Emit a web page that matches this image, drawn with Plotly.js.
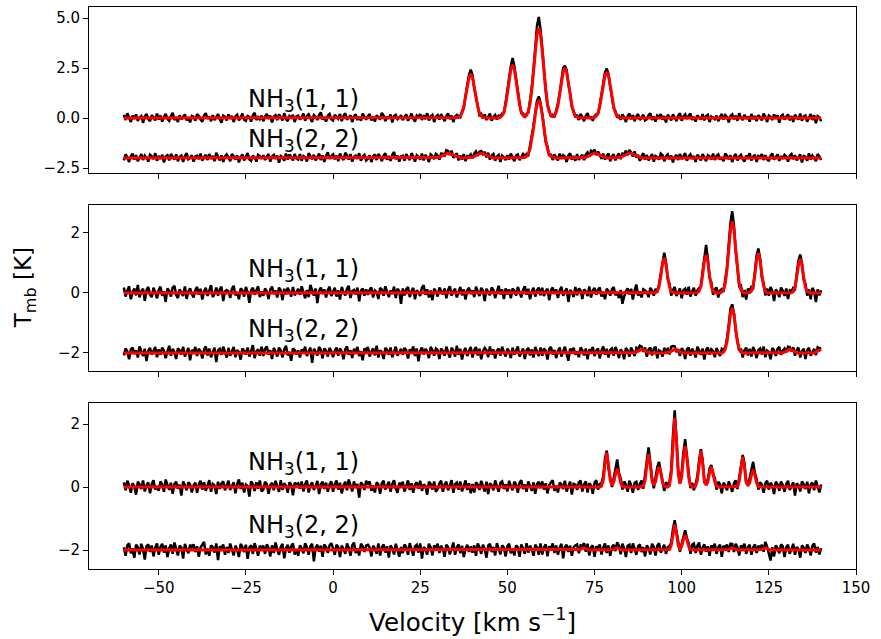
<!DOCTYPE html>
<html>
<head>
<meta charset="utf-8">
<script src="https://cdn.plot.ly/plotly-3.0.1.min.js"></script>
<style>html,body{margin:0;padding:0;background:#fff}</style>
</head>
<body>
<div id="chart" style="width:881px;height:639px"></div>
<script>
// Channel grid of all spectra (km/s)
const channelStart = -60;
const channelWidth = 0.5;
// Vertical offset applied to the NH3(2,2) spectra when drawing
const offset22 = -2;
const labels = ["NH<sub>3</sub>(1, 1)", "NH<sub>3</sub>(2, 2)"];

// ---------- Panel 1 (top) ----------
const top11Data = [
.16,-.1,.24,.06,-.2,.12,-.04,.18,-.14,.02,.1,-.24,.08,.2,-.06,-.16,.14,.04,-.12,.22,
-.08,.12,-.18,.06,.2,-.04,-.14,.1,.26,-.1,.04,-.2,.14,-.06,.08,.18,-.12,.02,-.22,.1,
.06,-.14,.2,.1,-.08,-.18,.12,.24,-.04,.08,-.16,.14,-.1,.04,.2,-.06,-.24,.12,.06,-.12,
.18,-.04,.1,-.2,.08,.16,-.12,.02,.22,-.08,-.14,.1,.06,-.18,.14,.26,-.1,.04,-.06,.12,
-.16,.08,.2,-.04,.12,-.22,.06,.14,-.1,.18,.04,-.12,.24,-.06,-.16,.1,.02,.16,-.2,.08,
.12,-.08,.04,.22,-.14,.1,.18,-.04,-.2,.14,.06,-.1,.16,.28,-.08,.04,-.18,.12,.2,-.06,
-.12,.16,.06,-.04,.2,-.16,.1,.24,-.08,.02,.14,-.2,.08,.18,-.1,.06,-.14,.22,.04,-.08,
.1,.2,-.12,.06,-.18,.14,.04,-.08,.26,.12,-.16,.08,-.04,.18,-.22,.1,.16,-.06,.02,.14,
-.1,.06,.18,-.14,.08,.22,-.04,-.18,.12,.04,.2,-.1,.14,-.06,.24,-.12,.08,.16,-.2,.06,
.14,-.08,.2,.04,-.16,.1,.22,-.06,.12,-.2,.08,.16,.1,.04,.35,.5,1.13,1.66,2.16,2.42,
2.15,1.48,1.12,.62,.14,.2,-.03,.18,-.1,.08,.22,-.14,.06,.16,-.08,.12,.09,.22,.24,.76,
1.29,2.0,2.6,3.0,2.6,1.95,1.14,.74,.24,.23,.02,.2,.27,.84,1.5,2.45,3.55,4.6,5.05,4.45,
3.5,2.25,1.46,.62,.4,.06,.15,.04,.37,.72,1.25,1.9,2.5,2.62,2.4,1.68,1.24,.55,.37,.03,
.16,-.1,.2,.06,-.16,.12,.24,-.04,.08,-.14,.09,.18,.2,.64,1.12,1.72,2.28,2.47,2.2,1.58,
1.12,.48,.34,.02,.11,-.08,.18,.04,-.2,.1,.22,-.06,.14,-.16,.08,.2,-.1,.04,.16,-.12,
-.06,.14,.24,-.1,.08,-.18,.12,.04,.2,-.08,.1,-.22,.16,.06,-.12,.18,.02,-.16,.12,.24,
-.14,.08,.18,-.04,.12,.22,-.1,.06,-.18,.14,.04,-.08,.2,-.12,.1,.16,-.2,.08,.02,-.06,
.12,-.16,.06,.2,-.08,.14,.04,-.22,.1,.18,-.06,.12,-.14,.24,.02,-.1,.16,-.04,.08,-.18,
.2,-.06,.1,-.16,.14,.04,-.12,.22,.08,-.2,.12,.06,-.1,.18,-.04,.14,-.24,.1,.16,-.08,
.06,.18,-.12,.1,-.2,.16,.04,-.08,.22,-.14,.08,.12,-.18,.06,.2,-.1,.14,-.26,.1,.04,
-.16];
const top11Fit = [
0,0,0,0,0,0,0,0,0,0,0,0,0,0,0,0,0,0,0,0,
0,0,0,0,0,0,0,0,0,0,0,0,0,0,0,0,0,0,0,0,
0,0,0,0,0,0,0,0,0,0,0,0,0,0,0,0,0,0,0,0,
0,0,0,0,0,0,0,0,0,0,0,0,0,0,0,0,0,0,0,0,
0,0,0,0,0,0,0,0,0,0,0,0,0,0,0,0,0,0,0,0,
0,0,0,0,0,0,0,0,0,0,0,0,0,0,0,0,0,0,0,0,
0,0,0,0,0,0,0,0,0,0,0,0,0,0,0,0,0,0,0,0,
0,0,0,0,0,0,0,0,0,0,0,0,0,0,0,0,0,0,0,0,
0,0,0,0,0,0,0,0,0,0,0,0,0,0,0,0,0,0,0,0,
0,0,0,0,0,0,0,0,0,0,0,0,.03,.1,.25,.55,1.01,1.56,2.02,2.2,
2.02,1.56,1.01,.55,.25,.1,.03,0,0,0,0,0,0,0,0,0,.04,.12,.3,.66,
1.21,1.87,2.43,2.65,2.43,1.87,1.21,.66,.3,.13,.08,.13,.32,.71,1.38,2.31,3.35,4.18,4.5,4.18,
3.35,2.31,1.38,.71,.32,.12,.08,.12,.29,.62,1.15,1.77,2.29,2.5,2.29,1.77,1.15,.62,.29,.11,
.04,0,0,0,0,0,0,0,0,0,.03,.1,.26,.57,1.05,1.63,2.11,2.3,2.11,1.63,
1.05,.57,.26,.1,.03,0,0,0,0,0,0,0,0,0,0,0,0,0,0,0,
0,0,0,0,0,0,0,0,0,0,0,0,0,0,0,0,0,0,0,0,
0,0,0,0,0,0,0,0,0,0,0,0,0,0,0,0,0,0,0,0,
0,0,0,0,0,0,0,0,0,0,0,0,0,0,0,0,0,0,0,0,
0,0,0,0,0,0,0,0,0,0,0,0,0,0,0,0,0,0,0,0,
0,0,0,0,0,0,0,0,0,0,0,0,0,0,0,0,0,0,0,0,
0];
const top22Data = [
-.12,.18,.04,-.2,.1,.22,-.08,.14,-.16,.06,.2,-.1,.12,.02,-.18,.16,.08,-.06,.24,-.14,
.1,-.04,.16,-.22,.08,.14,-.12,.2,.04,-.08,.18,-.16,.06,.12,-.2,.1,.24,-.06,.02,.14,
-.18,.08,.12,-.06,.22,-.14,.04,.16,-.1,.2,-.04,.1,-.16,.26,.06,-.12,.14,-.2,.08,.18,
.04,-.16,.2,.1,-.08,.14,-.22,.06,.18,-.12,.08,.24,-.06,-.14,.12,.02,-.18,.16,.1,-.04,
.14,-.1,.06,.2,-.18,.08,.16,-.04,.12,-.24,.1,.04,-.14,.22,-.08,.18,.06,-.12,.2,-.02,
-.08,.2,-.14,.1,.04,-.18,.24,.08,-.06,.16,-.12,.06,.22,-.1,.14,-.2,.12,.28,-.04,.1,
.18,-.06,.12,-.16,.22,.04,-.1,.26,.14,-.08,.2,-.18,.06,.12,-.04,.24,-.14,.08,.16,-.12,
-.04,.14,-.2,.08,.18,-.1,.2,.06,-.16,.12,.24,-.08,.1,-.14,.16,.3,-.06,.12,-.18,.08,
.12,-.14,.2,.04,-.1,.24,.08,-.18,.14,.06,-.08,.22,-.12,.16,.02,-.2,.18,.1,-.06,.2,
.12,-.08,.22,.21,.13,.39,.35,.15,.37,.01,.16,.24,-.12,.12,-.08,.2,-.16,.1,.08,.18,
-.02,.22,.33,.11,.31,.35,.19,.31,.03,.26,-.08,.12,.2,-.14,.08,.16,-.2,.12,.04,-.1,
.14,-.08,.22,.06,-.16,.12,.18,-.1,.08,.2,.08,.2,.14,.6,1.0,1.62,2.26,2.86,3.08,2.76,
2.22,1.6,.82,.58,.1,.2,-.1,.18,.06,-.12,.22,-.04,.14,.08,-.2,.12,.24,-.08,.1,-.14,
.2,-.1,.06,.16,-.1,.18,.28,.06,.36,.3,.42,.14,.32,.17,-.04,.22,-.08,.12,.22,-.16,
.08,.18,-.12,.1,.22,-.06,.22,.19,.37,.15,.4,.27,.07,.33,.02,.16,-.14,.1,.24,-.08,
.16,-.12,.06,.2,-.18,.1,.04,-.08,.22,.14,-.16,.08,.18,-.06,.12,-.22,.06,.16,-.1,.2,
-.06,.12,.24,-.14,.08,.18,-.04,.1,-.2,.16,.06,-.12,.2,.04,-.16,.14,.08,-.08,.22,-.1,
.1,.18,-.08,.04,-.16,.22,.12,-.06,.14,-.2,.08,.2,-.12,.06,.16,-.04,-.18,.12,.02,.24,
-.12,.06,.16,-.2,.1,.04,.2,-.1,.14,-.06,-.16,.12,.22,-.08,.06,.18,-.14,.1,-.04,.16,
.08,-.18,.12,.2,-.06,.14,-.12,.04,.18,-.22,.1,.06,-.14,.24,-.08,.12,.02,-.16,.2,.08,
-.1];
const top22Fit = [
0,0,0,0,0,0,0,0,0,0,0,0,0,0,0,0,0,0,0,0,
0,0,0,0,0,0,0,0,0,0,0,0,0,0,0,0,0,0,0,0,
0,0,0,0,0,0,0,0,0,0,0,0,0,0,0,0,0,0,0,0,
0,0,0,0,0,0,0,0,0,0,0,0,0,0,0,0,0,0,0,0,
0,0,0,0,0,0,0,0,0,0,0,0,0,0,0,0,0,0,0,0,
0,0,0,0,0,0,0,0,0,0,0,0,0,0,0,0,0,0,0,0,
0,0,0,0,0,0,0,0,0,0,0,0,0,0,0,0,0,0,0,0,
0,0,0,0,0,0,0,0,0,0,0,0,0,0,0,0,0,0,0,0,
0,0,0,0,0,0,0,0,0,0,0,0,0,0,0,0,0,0,0,0,
.02,.04,.08,.13,.19,.23,.25,.23,.19,.13,.08,.04,.02,0,0,0,0,0,.01,.02,
.04,.08,.13,.19,.23,.25,.23,.19,.13,.08,.04,.02,0,0,0,0,0,0,0,0,
0,0,0,0,0,0,0,0,0,0,.03,.08,.2,.46,.89,1.49,2.16,2.69,2.9,2.69,
2.16,1.49,.89,.46,.2,.08,.03,0,0,0,0,0,0,0,0,0,0,0,0,0,
0,0,0,0,.02,.04,.08,.13,.19,.23,.25,.23,.19,.13,.08,.04,.02,0,0,0,
0,0,0,0,.02,.04,.08,.13,.19,.23,.25,.23,.19,.13,.08,.04,.02,0,0,0,
0,0,0,0,0,0,0,0,0,0,0,0,0,0,0,0,0,0,0,0,
0,0,0,0,0,0,0,0,0,0,0,0,0,0,0,0,0,0,0,0,
0,0,0,0,0,0,0,0,0,0,0,0,0,0,0,0,0,0,0,0,
0,0,0,0,0,0,0,0,0,0,0,0,0,0,0,0,0,0,0,0,
0,0,0,0,0,0,0,0,0,0,0,0,0,0,0,0,0,0,0,0,
0];

// ---------- Panel 2 (middle) ----------
const mid11Data = [
.18,-.12,.08,.22,-.21,.03,.15,-.08,.27,-.15,.06,.14,-.26,.09,.2,-.05,-.14,.17,.03,-.18,
.1,.21,-.09,.05,-.3,.15,.08,-.12,.18,.24,-.06,-.17,.12,.03,-.1,.22,-.2,.06,.15,-.03,
-.15,.09,.2,-.06,.14,-.22,.05,.17,-.1,.08,.26,-.14,-.03,.18,-.09,.12,.21,-.27,.05,.1,
.06,-.17,.14,.24,-.08,.03,-.21,.15,.09,-.12,.2,.02,-.33,.1,.17,-.06,.08,.22,-.14,.05,
-.09,.15,.05,-.2,.12,.21,-.03,.08,-.15,.18,.09,-.24,.14,-.05,.17,.06,-.12,.2,-.08,.03,
.14,-.06,.22,.03,-.18,.1,-.14,.27,.05,-.09,.15,-.34,.08,.18,-.03,.12,-.15,.09,.21,-.1,
.05,.17,-.12,.09,-.22,.2,.03,-.08,.14,.24,-.17,.06,.1,-.05,.18,-.28,.08,.15,-.09,.12,
-.06,.1,.18,-.15,.08,.03,-.2,.17,.12,-.09,.22,.05,-.14,.09,-.03,.21,-.17,.14,.06,-.36,
.15,-.08,.12,.2,-.14,.06,.17,-.21,.09,.03,-.1,.18,.26,-.06,.12,-.15,.08,-.24,.14,.05,
-.12,.18,.08,-.05,.15,-.18,.1,.22,-.09,.06,.14,-.15,.03,.2,-.08,.12,-.22,.09,.17,-.03,
.09,-.14,.21,.05,-.1,.17,.08,-.27,.14,.03,-.08,.18,.1,-.17,.06,.24,-.05,.12,-.2,.15,
-.05,.12,-.18,.15,.08,-.09,.2,.03,-.15,.1,.22,-.06,.14,-.21,.05,.17,-.12,.09,.18,-.08,
.17,-.1,.06,.14,-.24,.09,.18,-.03,.12,-.17,.08,.21,-.09,.05,.15,-.3,.1,.03,-.14,.2,
-.08,.15,.09,-.2,.12,.05,-.1,.22,-.15,.08,.17,-.06,.1,.18,-.12,.03,-.21,.14,.06,-.09,
.12,.2,-.08,.03,-.17,.1,-.36,-.12,.06,.15,-.05,.14,-.22,.09,.28,-.09,.05,-.15,.12,.08,
.03,-.14,.17,.08,-.09,.14,.02,.29,.66,1.1,1.34,1.02,.46,.31,-.09,.1,.2,-.1,.06,.15,
-.18,.09,.14,-.06,.21,-.12,.05,.17,-.09,.08,.17,.2,.72,1.26,1.6,1.15,.5,.35,-.06,.11,
.18,-.15,.08,.13,.04,.45,.86,1.62,2.34,2.72,2.24,1.39,.9,.23,.25,-.14,.1,-.22,.14,.07,
.2,.16,.72,1.26,1.48,1.14,.51,.32,-.08,.15,-.09,.2,.06,-.27,.12,.03,-.14,.18,.08,-.1,
.15,-.2,.09,.06,.17,.13,.64,1.08,1.28,1.0,.43,.3,-.09,.12,-.21,.17,.05,-.3,.12,-.08,
.09];
const mid11Fit = [
0,0,0,0,0,0,0,0,0,0,0,0,0,0,0,0,0,0,0,0,
0,0,0,0,0,0,0,0,0,0,0,0,0,0,0,0,0,0,0,0,
0,0,0,0,0,0,0,0,0,0,0,0,0,0,0,0,0,0,0,0,
0,0,0,0,0,0,0,0,0,0,0,0,0,0,0,0,0,0,0,0,
0,0,0,0,0,0,0,0,0,0,0,0,0,0,0,0,0,0,0,0,
0,0,0,0,0,0,0,0,0,0,0,0,0,0,0,0,0,0,0,0,
0,0,0,0,0,0,0,0,0,0,0,0,0,0,0,0,0,0,0,0,
0,0,0,0,0,0,0,0,0,0,0,0,0,0,0,0,0,0,0,0,
0,0,0,0,0,0,0,0,0,0,0,0,0,0,0,0,0,0,0,0,
0,0,0,0,0,0,0,0,0,0,0,0,0,0,0,0,0,0,0,0,
0,0,0,0,0,0,0,0,0,0,0,0,0,0,0,0,0,0,0,0,
0,0,0,0,0,0,0,0,0,0,0,0,0,0,0,0,0,0,0,0,
0,0,0,0,0,0,0,0,0,0,0,0,0,0,0,0,0,0,0,0,
0,0,0,0,0,0,0,0,0,0,0,0,0,0,0,0,0,0,0,0,
0,0,0,0,0,0,0,0,0,0,0,0,0,0,0,0,0,0,0,0,
0,0,0,0,0,.01,.05,.2,.54,.96,1.17,.96,.54,.2,.05,.01,0,0,0,0,
0,0,0,0,0,0,0,0,0,.01,.06,.22,.58,1.05,1.27,1.05,.58,.22,.06,.01,
0,0,0,.03,.1,.32,.77,1.44,2.1,2.38,2.1,1.44,.77,.32,.1,.03,0,0,0,.01,
.06,.23,.61,1.09,1.33,1.09,.61,.23,.06,.01,0,0,0,0,0,0,0,0,0,0,
0,0,0,.01,.05,.19,.52,.93,1.13,.93,.52,.19,.05,.01,0,0,0,0,0,0,
0];
const mid22Data = [
-.08,.15,.05,-.21,.12,.18,-.03,.09,-.15,.22,.06,-.1,.14,-.27,.08,.17,-.05,.1,.2,-.14,
.12,-.06,.18,.08,-.17,.05,.24,-.09,.14,.03,-.2,.15,.09,-.05,.21,-.12,.06,.17,-.24,.1,
.03,.2,-.1,.14,.06,-.18,.12,.22,-.08,.15,-.14,.05,.18,-.3,.09,.14,-.06,.21,.02,-.15,
.17,-.09,.06,.2,-.14,.1,.03,-.22,.15,.08,-.05,.18,-.12,.09,.26,-.17,.05,.12,-.09,.21,
-.1,.14,.22,-.06,.09,-.2,.17,.05,-.12,.18,.08,-.15,.12,.24,-.08,.03,-.26,.15,.1,-.05,
.09,-.15,.12,.03,.21,-.1,.06,.18,-.33,.14,.05,-.08,.2,.1,-.18,.15,.08,-.12,.17,.06,
-.14,.08,.18,-.09,.15,.05,-.21,.12,.22,-.06,.09,-.17,.14,.03,.2,-.1,.06,-.24,.15,.09,
.2,-.12,.05,.15,-.08,.24,-.15,.09,.03,-.2,.17,.1,-.06,.18,-.14,.08,.21,-.09,.05,.14,
-.06,.17,.09,-.18,.12,.03,.22,-.1,.15,-.28,.08,.18,-.05,.14,.06,-.17,.2,.1,-.09,.15,
.1,-.2,.15,.06,-.09,.21,.03,-.15,.18,.09,-.12,.24,-.06,.14,-.22,.05,.17,-.1,.08,.2,
-.15,.09,.2,-.08,.14,-.21,.06,.17,.1,-.14,.22,-.05,.12,-.18,.08,.15,-.09,.21,.03,-.12,
.14,.05,-.17,.18,-.06,.1,.22,-.12,.03,.15,-.2,.09,.17,-.08,.12,-.15,.2,.06,-.1,.18,
-.09,.15,.08,-.22,.14,.2,-.05,.1,-.17,.06,.18,-.12,.09,.21,-.03,-.26,.14,.08,.17,-.06,
.06,-.14,.18,.1,-.08,.15,-.21,.12,.05,.2,-.1,.08,.15,-.18,.09,.22,-.06,.14,-.15,.1,
.15,-.09,.2,.06,-.17,.12,.03,-.21,.17,.09,-.12,.18,.05,-.1,.17,.13,.24,.21,.04,.18,
-.12,.12,.18,-.08,.14,.21,-.18,.09,.05,-.12,.17,.08,.14,-.05,.21,.23,.22,.03,.13,-.1,
.16,.08,-.2,.12,.18,-.09,.14,.05,-.15,.21,.09,-.06,.15,-.22,.1,.18,-.05,.12,.06,-.14,
.17,.03,-.1,.14,.1,.19,.48,.94,1.48,1.62,1.32,.74,.46,.07,.14,-.15,.09,.18,-.08,.14,
-.12,.2,.06,-.17,.1,.15,-.05,.22,-.14,.08,.03,-.21,.17,.09,-.1,.14,.2,-.06,.08,.15,
.02,.21,.2,.06,.19,-.09,.1,.18,-.15,.06,.14,-.2,.1,.17,-.09,.05,.14,-.07,.19,.15,
.18];
const mid22Fit = [
0,0,0,0,0,0,0,0,0,0,0,0,0,0,0,0,0,0,0,0,
0,0,0,0,0,0,0,0,0,0,0,0,0,0,0,0,0,0,0,0,
0,0,0,0,0,0,0,0,0,0,0,0,0,0,0,0,0,0,0,0,
0,0,0,0,0,0,0,0,0,0,0,0,0,0,0,0,0,0,0,0,
0,0,0,0,0,0,0,0,0,0,0,0,0,0,0,0,0,0,0,0,
0,0,0,0,0,0,0,0,0,0,0,0,0,0,0,0,0,0,0,0,
0,0,0,0,0,0,0,0,0,0,0,0,0,0,0,0,0,0,0,0,
0,0,0,0,0,0,0,0,0,0,0,0,0,0,0,0,0,0,0,0,
0,0,0,0,0,0,0,0,0,0,0,0,0,0,0,0,0,0,0,0,
0,0,0,0,0,0,0,0,0,0,0,0,0,0,0,0,0,0,0,0,
0,0,0,0,0,0,0,0,0,0,0,0,0,0,0,0,0,0,0,0,
0,0,0,0,0,0,0,0,0,0,0,0,0,0,0,0,0,0,0,0,
0,0,0,0,0,0,0,0,0,0,0,0,0,0,0,0,0,0,0,0,
0,0,0,0,0,0,0,0,0,0,0,0,0,0,0,0,0,0,0,0,
0,0,0,0,0,0,0,0,0,0,0,0,0,.01,.03,.06,.1,.12,.1,.06,
.03,.01,0,0,0,0,0,0,0,0,0,0,.01,.03,.06,.1,.12,.1,.06,.03,
.01,0,0,0,0,0,0,0,0,0,0,0,0,0,0,0,0,0,0,0,
0,0,0,0,.03,.13,.37,.81,1.29,1.5,1.29,.81,.37,.13,.03,0,0,0,0,0,
0,0,0,0,0,0,0,0,0,0,0,0,0,0,0,0,0,0,.01,.03,
.06,.1,.12,.1,.06,.03,.01,0,0,0,0,0,0,0,0,0,.01,.03,.06,.1,
.12];

// ---------- Panel 3 (bottom) ----------
const bot11Data = [
.15,-.1,.2,.06,-.18,.12,.03,-.24,.17,.09,-.06,.21,-.14,.05,.15,-.2,.1,.22,-.08,.03,
-.12,.18,.08,-.15,.24,.05,-.09,.14,-.21,.1,.17,-.05,.08,-.27,.18,.06,-.1,.15,.09,-.17,
.06,.14,-.18,.09,.2,-.08,.15,-.12,.03,.22,-.15,.1,.05,-.22,.17,-.06,.12,.18,-.1,.08,
.2,-.09,.05,.15,-.2,.1,.24,-.06,.14,-.17,.08,.03,-.3,.18,.09,-.12,.15,-.05,.21,-.14,
-.08,.17,.1,-.21,.06,.14,-.1,.2,.03,-.15,.22,-.09,.12,.05,-.18,.15,.08,-.26,.14,.09,
.12,-.05,.18,-.14,.09,.21,-.17,.06,.15,-.09,.03,.2,-.22,.1,.17,-.06,.14,-.15,.08,.18,
-.15,.09,.21,-.08,.14,-.2,.05,.17,-.1,.24,.06,-.14,.18,-.03,.1,-.33,.15,.08,-.09,.2,
.08,.18,-.12,.05,-.17,.15,.09,-.21,.12,.2,-.08,.03,.17,-.15,.1,.22,-.06,-.18,.14,.05,
.17,-.14,.06,.21,-.09,.12,-.18,.08,.15,-.05,.2,-.12,.09,.03,-.24,.17,.1,-.08,.18,-.15,
-.06,.12,.2,-.15,.08,.17,-.1,.03,.22,-.18,.09,.14,-.08,.18,-.14,.05,.21,-.09,.12,-.2,
.1,-.17,.15,.08,-.09,.2,.05,-.14,.17,-.22,.12,.06,-.1,.21,.03,-.15,.14,.18,-.06,.09,
-.14,.2,.03,-.1,.17,.09,-.18,.14,.22,-.06,.08,-.15,.18,.05,-.12,.15,-.21,.1,.17,-.03,
.18,-.08,.12,-.2,.06,.15,.22,-.12,.05,-.17,.14,.09,-.06,.2,-.14,.03,.17,-.24,.1,.08,
-.09,.15,.21,-.14,.08,.18,-.17,.12,.05,-.21,.14,.22,-.08,.1,.12,.35,.9,1.16,.6,.3,
0,.28,.63,.88,.45,.28,-.08,.18,.08,-.15,.2,.06,-.18,.14,.17,-.09,.1,.21,-.05,.33,
.84,1.26,.72,.31,-.04,.28,.64,.8,.5,.27,-.12,.15,.09,.15,.55,1.64,2.44,1.54,.57,.13,
.47,1.1,1.52,.99,.45,-.03,.14,-.1,.1,.35,.85,1.2,.88,.16,.17,.24,.59,.7,.37,.29,
-.08,.17,.09,-.2,.14,.06,-.1,.18,.03,-.15,.12,.21,-.06,.28,.73,1.02,.77,.12,.17,.27,
.56,.8,.45,.26,-.08,.15,.08,-.18,.12,.2,-.08,.14,.05,-.22,.17,.09,-.12,.18,.06,-.15,
.1,.2,-.09,.03,.15,-.27,.12,.06,-.14,.18,.09,-.06,.17,-.2,.08,.14,-.1,.21,.05,-.17,
.08];
const bot11Fit = [
0,0,0,0,0,0,0,0,0,0,0,0,0,0,0,0,0,0,0,0,
0,0,0,0,0,0,0,0,0,0,0,0,0,0,0,0,0,0,0,0,
0,0,0,0,0,0,0,0,0,0,0,0,0,0,0,0,0,0,0,0,
0,0,0,0,0,0,0,0,0,0,0,0,0,0,0,0,0,0,0,0,
0,0,0,0,0,0,0,0,0,0,0,0,0,0,0,0,0,0,0,0,
0,0,0,0,0,0,0,0,0,0,0,0,0,0,0,0,0,0,0,0,
0,0,0,0,0,0,0,0,0,0,0,0,0,0,0,0,0,0,0,0,
0,0,0,0,0,0,0,0,0,0,0,0,0,0,0,0,0,0,0,0,
0,0,0,0,0,0,0,0,0,0,0,0,0,0,0,0,0,0,0,0,
0,0,0,0,0,0,0,0,0,0,0,0,0,0,0,0,0,0,0,0,
0,0,0,0,0,0,0,0,0,0,0,0,0,0,0,0,0,0,0,0,
0,0,0,0,0,0,0,0,0,0,0,0,0,0,0,0,0,0,0,0,
0,0,0,0,0,0,0,0,0,0,0,0,0,0,0,0,0,0,0,0,
0,0,0,0,0,0,0,0,0,0,0,0,0,0,.03,.21,.72,1.09,.72,.21,
.06,.14,.4,.57,.4,.14,.03,0,0,0,0,0,0,0,0,0,0,0,.03,.2,
.69,1.04,.69,.2,.06,.16,.46,.65,.46,.16,.03,0,0,.05,.42,1.46,2.2,1.46,.43,.11,
.32,.92,1.3,.92,.32,.06,.01,0,.03,.22,.76,1.15,.76,.22,.06,.16,.46,.65,.46,.16,
.03,0,0,0,0,0,0,0,0,0,0,0,.02,.18,.64,.96,.64,.18,.04,.13,
.38,.54,.38,.13,.02,0,0,0,0,0,0,0,0,0,0,0,0,0,0,0,
0,0,0,0,0,0,0,0,0,0,0,0,0,0,0,0,0,0,0,0,
0];
const bot22Data = [
.09,-.18,.15,.22,-.1,.05,-.24,.17,.08,-.14,.2,.03,-.3,.12,.18,-.06,.15,-.2,.09,.21,
-.15,.1,.2,-.08,.15,-.22,.06,.18,-.12,.24,.05,-.17,.14,.08,-.27,.2,.03,-.1,.17,.09,
.18,-.06,.12,-.21,.08,.17,.26,-.14,.05,-.18,.15,.09,-.08,.21,-.32,.12,.06,.18,-.15,.1,
-.09,.21,.05,-.17,.14,.03,-.22,.2,.1,-.06,.17,-.28,.09,.15,-.12,.22,.05,-.18,.14,.06,
.14,-.12,.18,.08,-.2,.15,-.09,.24,.03,-.15,.1,.2,-.26,.06,.17,-.08,.12,.21,-.14,.03,
-.18,.15,.06,-.1,.22,.09,-.15,.12,.2,-.36,.08,.17,-.05,.14,-.21,.18,.1,-.09,.15,.22,
.06,-.15,.17,.1,-.22,.14,.03,-.12,.21,.08,-.18,.15,.24,-.09,.05,-.17,.2,.12,-.06,.15,
.17,.08,-.2,.14,.05,-.12,.21,-.17,.09,.18,-.08,.12,-.24,.15,.06,-.14,.2,.03,-.21,.1,
-.1,.18,.09,-.15,.22,.05,-.18,.12,.17,-.08,.21,-.27,.1,.03,-.14,.2,.09,-.17,.15,.06,
.2,-.09,.14,.03,-.21,.17,.1,-.14,.06,.24,-.15,.08,.18,-.1,.14,-.22,.05,.17,-.06,.12,
-.08,.15,-.18,.21,.09,-.12,.17,.05,-.24,.14,.2,-.06,.1,-.17,.22,.03,-.14,.15,.08,-.2,
.12,.2,-.1,.06,-.17,.15,.09,-.21,.18,.05,-.12,.22,-.08,.14,.03,-.18,.17,.09,-.15,.21,
-.14,.08,.18,-.2,.12,.03,.21,-.09,.15,-.15,.08,.2,-.26,.1,.17,-.06,.14,-.18,.09,.15,
.18,-.1,.15,.13,.22,-.05,.2,-.17,.09,.15,-.21,.12,.05,.18,-.14,.08,.21,-.09,.15,-.18,
.1,.17,-.03,.25,.14,-.13,.2,.06,-.22,.14,.17,-.09,.21,.05,-.15,.12,.18,-.06,.09,-.2,
.15,.06,-.14,.2,.1,-.17,.14,.22,-.08,.03,.17,-.12,.09,.13,.23,.67,.95,.6,.24,-.05,
.21,.46,.63,.38,.22,-.12,.17,.21,-.09,.14,.24,-.15,.08,.18,-.05,.12,-.18,.15,.06,.2,
-.12,.09,.17,-.21,.14,.05,.18,-.06,.2,.19,-.06,.2,.09,-.17,.15,.06,.2,-.12,.1,.17,
-.15,.08,.18,-.09,.14,.05,.17,-.05,.26,.11,-.12,-.33,.09,-.2,.15,.06,-.1,.18,.12,-.22,
.09,.17,-.12,.05,.2,-.15,.1,.03,-.24,.15,.08,-.09,.18,.06,-.17,.14,.21,-.08,.1,-.14,
.06];
const bot22Fit = [
0,0,0,0,0,0,0,0,0,0,0,0,0,0,0,0,0,0,0,0,
0,0,0,0,0,0,0,0,0,0,0,0,0,0,0,0,0,0,0,0,
0,0,0,0,0,0,0,0,0,0,0,0,0,0,0,0,0,0,0,0,
0,0,0,0,0,0,0,0,0,0,0,0,0,0,0,0,0,0,0,0,
0,0,0,0,0,0,0,0,0,0,0,0,0,0,0,0,0,0,0,0,
0,0,0,0,0,0,0,0,0,0,0,0,0,0,0,0,0,0,0,0,
0,0,0,0,0,0,0,0,0,0,0,0,0,0,0,0,0,0,0,0,
0,0,0,0,0,0,0,0,0,0,0,0,0,0,0,0,0,0,0,0,
0,0,0,0,0,0,0,0,0,0,0,0,0,0,0,0,0,0,0,0,
0,0,0,0,0,0,0,0,0,0,0,0,0,0,0,0,0,0,0,0,
0,0,0,0,0,0,0,0,0,0,0,0,0,0,0,0,0,0,0,0,
0,0,0,0,0,0,0,0,0,0,0,0,0,0,0,0,0,0,0,0,
0,0,0,0,0,0,0,0,0,0,0,0,0,0,0,0,0,0,0,0,
0,0,.02,.05,.07,.05,.02,0,0,0,0,0,0,0,0,0,0,0,0,0,
0,.02,.05,.07,.05,.02,0,0,0,0,0,0,0,0,0,0,0,0,0,0,
0,0,0,0,0,0,0,0,0,0,0,0,0,.02,.15,.54,.81,.54,.15,.04,
.12,.33,.47,.33,.12,.02,0,0,0,0,0,0,0,0,0,0,0,0,0,0,
0,0,0,0,0,0,0,.02,.05,.07,.05,.02,0,0,0,0,0,0,0,0,
0,0,0,0,0,0,.02,.05,.07,.05,.02,0,0,0,0,0,0,0,0,0,
0,0,0,0,0,0,0,0,0,0,0,0,0,0,0,0,0,0,0,0,
0];

// ---------- drawing ----------
function velocities(arr) { return arr.map((_, i) => channelStart + i * channelWidth); }
function shifted(arr, off) { return arr.map(v => v + off); }

const panels = [
  {xa: 'x3', ya: 'y3', d11: top11Data, f11: top11Fit, d22: top22Data, f22: top22Fit},
  {xa: 'x2', ya: 'y2', d11: mid11Data, f11: mid11Fit, d22: mid22Data, f22: mid22Fit},
  {xa: 'x',  ya: 'y',  d11: bot11Data, f11: bot11Fit, d22: bot22Data, f22: bot22Fit}
];

const traces = [];
const annotations = [];
const FONT = 'DejaVu Sans, sans-serif';
panels.forEach(p => {
  const black = {color: '#000000', width: 2.5};
  const red = {color: '#ff0000', width: 3};
  traces.push({x: velocities(p.d11), y: p.d11, xaxis: p.xa, yaxis: p.ya, type: 'scatter', mode: 'lines', line: black, hoverinfo: 'skip'});
  traces.push({x: velocities(p.d22), y: shifted(p.d22, offset22), xaxis: p.xa, yaxis: p.ya, type: 'scatter', mode: 'lines', line: black, hoverinfo: 'skip'});
  traces.push({x: velocities(p.f11), y: p.f11, xaxis: p.xa, yaxis: p.ya, type: 'scatter', mode: 'lines', line: red, hoverinfo: 'skip'});
  traces.push({x: velocities(p.f22), y: shifted(p.f22, offset22), xaxis: p.xa, yaxis: p.ya, type: 'scatter', mode: 'lines', line: red, hoverinfo: 'skip'});
  annotations.push({x: -25, y: 0.5, xref: p.xa, yref: p.ya, text: labels[0], showarrow: false, xanchor: 'left', yanchor: 'bottom', yshift: -10, font: {family: FONT, size: 24, color: '#000'}});
  annotations.push({x: -25, y: 0.5 + offset22, xref: p.xa, yref: p.ya, text: labels[1], showarrow: false, xanchor: 'left', yanchor: 'bottom', yshift: -10, font: {family: FONT, size: 24, color: '#000'}});
});

annotations.push({xref: 'paper', yref: 'paper', x: -0.083, y: 0.5, text: 'T<sub>mb</sub> [K]', textangle: -90, showarrow: false, xanchor: 'center', yanchor: 'middle', font: {family: FONT, size: 23, color: '#000'}});

const xBase = {range: [-70, 150], tick0: 0, dtick: 25, ticks: 'outside', ticklen: 5, tickwidth: 1, tickcolor: '#000',
  showline: true, linecolor: '#000', linewidth: 1, mirror: true, showgrid: false, zeroline: false,
  tickfont: {family: FONT, size: 15, color: '#000'}};
const yBase = {ticks: 'outside', ticklen: 5, tickwidth: 1, tickcolor: '#000',
  showline: true, linecolor: '#000', linewidth: 1, mirror: true, showgrid: false, zeroline: false,
  tickfont: {family: FONT, size: 15, color: '#000'}};

const layout = {
  width: 881, height: 639,
  margin: {l: 89, r: 25, t: 7, b: 70},
  paper_bgcolor: '#fff', plot_bgcolor: '#fff',
  showlegend: false,
  font: {family: FONT, color: '#000'},
  xaxis: Object.assign({}, xBase, {anchor: 'y', showticklabels: true,
    title: {text: 'Velocity [km s<sup>−1</sup>]', font: {family: FONT, size: 24.5, color: '#000'}, standoff: 17}}),
  xaxis2: Object.assign({}, xBase, {anchor: 'y2', showticklabels: false}),
  xaxis3: Object.assign({}, xBase, {anchor: 'y3', showticklabels: false}),
  yaxis: Object.assign({}, yBase, {anchor: 'x', domain: [0, 0.2954], range: [-2.6, 2.67], tick0: 0, dtick: 2}),
  yaxis2: Object.assign({}, yBase, {anchor: 'x2', domain: [0.3523, 0.6477], range: [-2.6, 2.93], tick0: 0, dtick: 2}),
  yaxis3: Object.assign({}, yBase, {anchor: 'x3', domain: [0.7046, 1], range: [-2.75, 5.55], tick0: 0, dtick: 2.5, tickformat: '.1f'}),
  annotations: annotations
};

Plotly.newPlot('chart', traces, layout, {staticPlot: true, displayModeBar: false});
</script>
</body>
</html>
